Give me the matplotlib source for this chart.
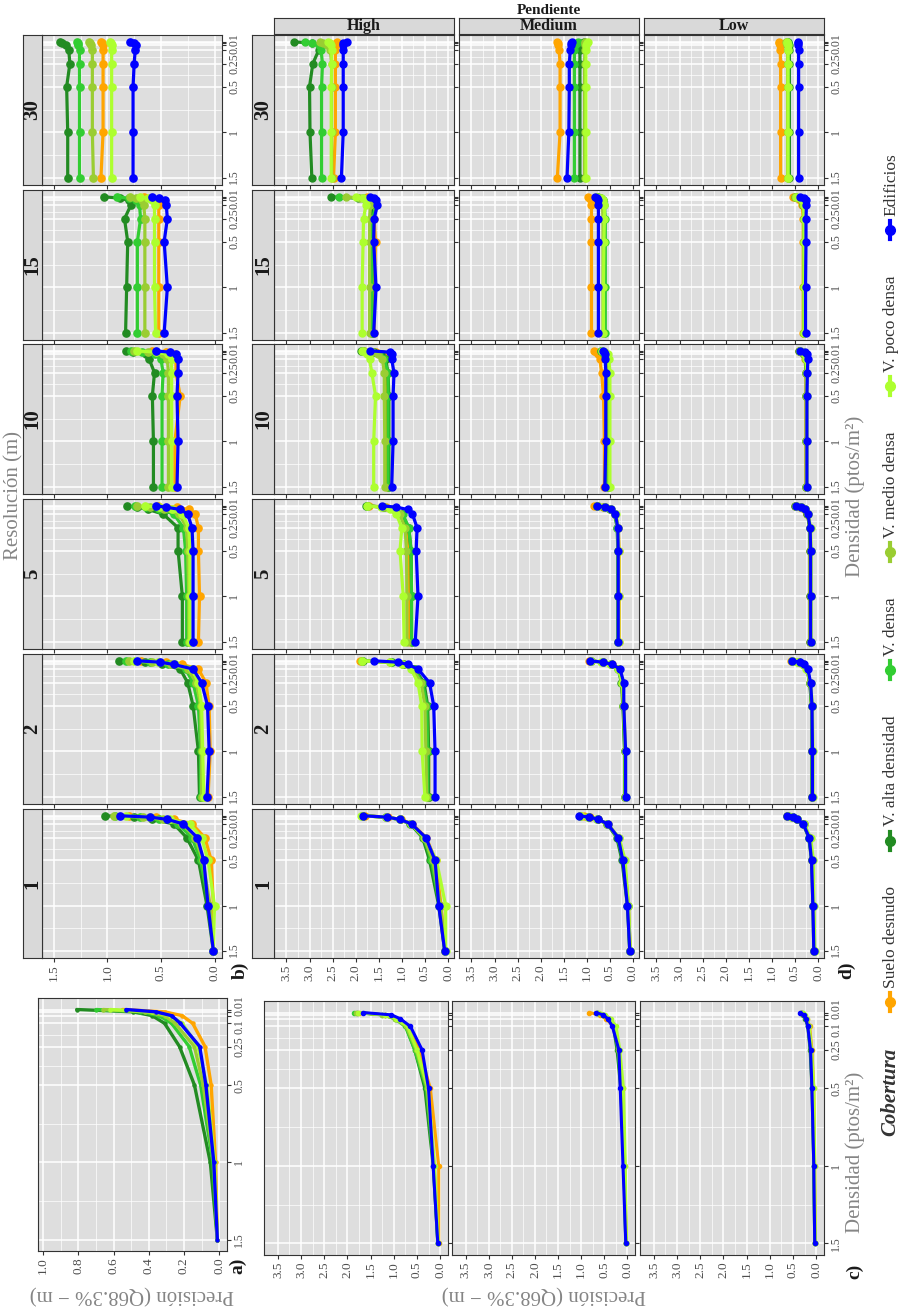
import matplotlib.pyplot as plt
from matplotlib.lines import Line2D
from matplotlib.transforms import ScaledTranslation

plt.rcParams['font.family'] = ['Liberation Serif', 'DejaVu Serif']

W, H = 901, 1308

densidad = [1.5, 1, 0.5, 0.25, 0.1, 0.05, 0.025, 0.01]
coberturas = ['Suelo desnudo', 'V. alta densidad', 'V. densa',
              'V. medio densa', 'V. poco densa', 'Edificios']
colores = ['orange', 'forestgreen', 'limegreen', 'yellowgreen', 'greenyellow', 'blue']
resoluciones = ['30', '15', '10', '5', '2', '1']
pendientes = ['High', 'Medium', 'Low']

# each block: one list per cobertura (same order as above), one value per densidad
a_prec = [
    [0.01, 0.02, 0.045, 0.08, 0.15, 0.21, 0.31, 0.55],
    [0.01, 0.05, 0.14, 0.225, 0.31, 0.38, 0.49, 0.81],
    [0.01, 0.035, 0.105, 0.17, 0.27, 0.34, 0.45, 0.70],
    [0.01, 0.03, 0.09, 0.14, 0.25, 0.31, 0.42, 0.66],
    [0.01, 0.025, 0.07, 0.12, 0.21, 0.28, 0.38, 0.62],
    [0.01, 0.03, 0.075, 0.11, 0.22, 0.27, 0.36, 0.53],
]

b_res30 = [
    [1.06, 1.04, 1.04, 1.04, 1.04, 1.04, 1.05, 1.06],
    [1.37, 1.37, 1.38, 1.35, 1.36, 1.39, 1.42, 1.44],
    [1.26, 1.26, 1.26, 1.26, 1.26, 1.27, 1.27, 1.28],
    [1.13, 1.14, 1.14, 1.14, 1.14, 1.15, 1.16, 1.17],
    [0.96, 0.96, 0.96, 0.96, 0.96, 0.96, 0.97, 0.98],
    [0.76, 0.76, 0.76, 0.75, 0.74, 0.73, 0.75, 0.79],
]
b_res15 = [
    [0.52, 0.52, 0.52, 0.52, 0.52, 0.54, 0.58, 0.66],
    [0.83, 0.82, 0.81, 0.84, 0.78, 0.80, 0.88, 1.03],
    [0.72, 0.72, 0.72, 0.69, 0.70, 0.73, 0.80, 0.91],
    [0.65, 0.65, 0.65, 0.65, 0.66, 0.68, 0.73, 0.79],
    [0.55, 0.56, 0.56, 0.56, 0.56, 0.58, 0.62, 0.70],
    [0.47, 0.44, 0.47, 0.44, 0.45, 0.46, 0.52, 0.58],
]
b_res10 = [
    [0.37, 0.37, 0.32, 0.36, 0.36, 0.38, 0.45, 0.58],
    [0.57, 0.57, 0.58, 0.56, 0.61, 0.64, 0.76, 0.83],
    [0.49, 0.49, 0.49, 0.48, 0.50, 0.56, 0.68, 0.78],
    [0.43, 0.43, 0.43, 0.43, 0.44, 0.48, 0.62, 0.75],
    [0.40, 0.40, 0.40, 0.40, 0.40, 0.43, 0.55, 0.72],
    [0.35, 0.34, 0.35, 0.34, 0.34, 0.36, 0.42, 0.55],
]
b_res5 = [
    [0.15, 0.14, 0.15, 0.15, 0.18, 0.24, 0.35, 0.53],
    [0.30, 0.30, 0.34, 0.34, 0.48, 0.62, 0.72, 0.82],
    [0.26, 0.26, 0.27, 0.29, 0.38, 0.52, 0.64, 0.74],
    [0.24, 0.24, 0.25, 0.26, 0.33, 0.47, 0.60, 0.72],
    [0.23, 0.23, 0.23, 0.24, 0.30, 0.40, 0.52, 0.65],
    [0.20, 0.20, 0.20, 0.21, 0.25, 0.32, 0.45, 0.55],
]
b_res2 = [
    [0.06, 0.04, 0.05, 0.08, 0.15, 0.30, 0.45, 0.69],
    [0.14, 0.15, 0.20, 0.25, 0.32, 0.49, 0.65, 0.89],
    [0.13, 0.13, 0.15, 0.20, 0.27, 0.43, 0.60, 0.83],
    [0.12, 0.12, 0.13, 0.17, 0.25, 0.41, 0.58, 0.80],
    [0.10, 0.11, 0.12, 0.15, 0.21, 0.37, 0.53, 0.75],
    [0.07, 0.05, 0.065, 0.12, 0.20, 0.38, 0.51, 0.72],
]
b_res1 = [
    [0.01, 0.01, 0.03, 0.09, 0.21, 0.38, 0.55, 0.80],
    [0.01, 0.07, 0.15, 0.26, 0.38, 0.58, 0.75, 1.02],
    [0.01, 0.05, 0.13, 0.21, 0.34, 0.52, 0.70, 0.93],
    [0.01, 0.04, 0.11, 0.18, 0.30, 0.48, 0.67, 0.94],
    [0.01, 0.00, 0.06, 0.12, 0.23, 0.42, 0.60, 0.83],
    [0.01, 0.06, 0.10, 0.16, 0.29, 0.44, 0.60, 0.88],
]

c_high = [
    [0.03, 0.03, 0.21, 0.45, 0.72, 0.95, 1.20, 1.75],
    [0.05, 0.15, 0.33, 0.55, 0.74, 0.95, 1.20, 1.80],
    [0.05, 0.14, 0.30, 0.55, 0.75, 0.98, 1.25, 1.85],
    [0.04, 0.13, 0.28, 0.52, 0.73, 0.97, 1.25, 1.82],
    [0.04, 0.12, 0.26, 0.50, 0.70, 0.95, 1.20, 1.78],
    [0.05, 0.15, 0.25, 0.39, 0.64, 0.86, 1.05, 1.66],
]
c_medium = [
    [0.02, 0.05, 0.10, 0.18, 0.30, 0.45, 0.60, 0.82],
    [0.03, 0.07, 0.14, 0.22, 0.30, 0.40, 0.52, 0.65],
    [0.03, 0.07, 0.13, 0.20, 0.29, 0.40, 0.52, 0.65],
    [0.02, 0.06, 0.12, 0.19, 0.28, 0.38, 0.50, 0.63],
    [0.02, 0.04, 0.08, 0.16, 0.24, 0.36, 0.48, 0.62],
    [0.03, 0.09, 0.15, 0.18, 0.32, 0.42, 0.52, 0.68],
]
c_low = [
    [0.02, 0.03, 0.05, 0.09, 0.14, 0.20, 0.26, 0.33],
    [0.03, 0.05, 0.09, 0.13, 0.18, 0.23, 0.28, 0.32],
    [0.03, 0.05, 0.08, 0.12, 0.17, 0.22, 0.27, 0.31],
    [0.02, 0.04, 0.07, 0.11, 0.16, 0.21, 0.26, 0.30],
    [0.02, 0.03, 0.05, 0.10, 0.15, 0.20, 0.25, 0.29],
    [0.03, 0.05, 0.09, 0.12, 0.18, 0.22, 0.27, 0.34],
]

d_30_high = [
    [2.48, 2.44, 2.44, 2.44, 2.44, 2.43, 2.42, 2.40],
    [2.95, 2.99, 3.00, 2.93, 2.80, 2.75, 2.95, 3.34],
    [2.74, 2.74, 2.74, 2.72, 2.75, 2.80, 2.95, 3.09],
    [2.52, 2.52, 2.52, 2.52, 2.55, 2.62, 2.70, 2.78],
    [2.53, 2.53, 2.53, 2.52, 2.52, 2.54, 2.56, 2.60],
    [2.31, 2.27, 2.27, 2.27, 2.27, 2.28, 2.27, 2.19],
]
d_30_medium = [
    [1.64, 1.58, 1.58, 1.58, 1.60, 1.62, 1.63, 1.64],
    [1.15, 1.15, 1.15, 1.15, 1.15, 1.12, 1.10, 1.06],
    [1.27, 1.27, 1.27, 1.27, 1.27, 1.25, 1.22, 1.20],
    [1.05, 1.05, 1.05, 1.05, 1.04, 1.04, 1.03, 1.03],
    [1.02, 1.02, 1.02, 1.02, 1.02, 1.01, 1.00, 0.98],
    [1.43, 1.39, 1.38, 1.38, 1.36, 1.35, 1.34, 1.33],
]
d_30_low = [
    [0.81, 0.81, 0.81, 0.81, 0.82, 0.83, 0.84, 0.85],
    [0.62, 0.62, 0.62, 0.62, 0.62, 0.63, 0.64, 0.64],
    [0.64, 0.64, 0.64, 0.64, 0.64, 0.65, 0.66, 0.67],
    [0.66, 0.66, 0.66, 0.66, 0.66, 0.67, 0.68, 0.70],
    [0.65, 0.65, 0.65, 0.65, 0.65, 0.66, 0.67, 0.68],
    [0.42, 0.42, 0.42, 0.42, 0.42, 0.43, 0.44, 0.44],
]
d_15_high = [
    [1.60, 1.60, 1.57, 1.60, 1.60, 1.62, 1.66, 1.75],
    [1.65, 1.65, 1.65, 1.65, 1.66, 1.72, 1.95, 2.53],
    [1.65, 1.65, 1.65, 1.64, 1.55, 1.60, 1.85, 2.37],
    [1.70, 1.70, 1.70, 1.70, 1.68, 1.72, 1.90, 2.20],
    [1.86, 1.86, 1.84, 1.83, 1.78, 1.78, 1.85, 2.00],
    [1.61, 1.56, 1.61, 1.60, 1.53, 1.55, 1.60, 1.68],
]
d_15_medium = [
    [0.90, 0.90, 0.90, 0.90, 0.90, 0.92, 0.95, 0.98],
    [0.62, 0.62, 0.62, 0.62, 0.64, 0.66, 0.72, 0.78],
    [0.60, 0.60, 0.60, 0.60, 0.62, 0.64, 0.70, 0.76],
    [0.65, 0.65, 0.65, 0.65, 0.66, 0.68, 0.72, 0.78],
    [0.64, 0.64, 0.63, 0.62, 0.62, 0.65, 0.70, 0.80],
    [0.75, 0.75, 0.75, 0.75, 0.75, 0.76, 0.78, 0.82],
]
d_15_low = [
    [0.32, 0.32, 0.32, 0.32, 0.34, 0.38, 0.45, 0.55],
    [0.30, 0.30, 0.30, 0.30, 0.32, 0.35, 0.42, 0.50],
    [0.30, 0.30, 0.30, 0.30, 0.31, 0.34, 0.40, 0.48],
    [0.31, 0.31, 0.31, 0.31, 0.32, 0.35, 0.41, 0.49],
    [0.30, 0.30, 0.30, 0.30, 0.31, 0.34, 0.40, 0.47],
    [0.27, 0.27, 0.26, 0.26, 0.25, 0.26, 0.30, 0.38],
]
d_10_high = [
    [1.33, 1.33, 1.33, 1.33, 1.35, 1.40, 1.55, 1.82],
    [1.28, 1.28, 1.28, 1.30, 1.35, 1.45, 1.60, 1.88],
    [1.30, 1.30, 1.30, 1.30, 1.38, 1.50, 1.65, 1.85],
    [1.37, 1.37, 1.38, 1.38, 1.42, 1.52, 1.65, 1.82],
    [1.61, 1.61, 1.57, 1.65, 1.70, 1.75, 1.80, 1.86],
    [1.22, 1.19, 1.19, 1.17, 1.22, 1.22, 1.25, 1.70],
]
d_10_medium = [
    [0.62, 0.62, 0.64, 0.68, 0.72, 0.75, 0.80, 0.85],
    [0.55, 0.55, 0.55, 0.55, 0.58, 0.62, 0.66, 0.70],
    [0.55, 0.55, 0.55, 0.56, 0.58, 0.62, 0.66, 0.70],
    [0.52, 0.52, 0.52, 0.52, 0.55, 0.58, 0.62, 0.68],
    [0.50, 0.50, 0.50, 0.50, 0.52, 0.55, 0.60, 0.68],
    [0.61, 0.59, 0.59, 0.59, 0.60, 0.60, 0.62, 0.64],
]
d_10_low = [
    [0.26, 0.26, 0.26, 0.26, 0.28, 0.31, 0.36, 0.42],
    [0.25, 0.25, 0.25, 0.25, 0.27, 0.30, 0.35, 0.41],
    [0.25, 0.25, 0.25, 0.25, 0.27, 0.30, 0.34, 0.40],
    [0.25, 0.25, 0.25, 0.25, 0.26, 0.29, 0.34, 0.40],
    [0.24, 0.24, 0.24, 0.24, 0.26, 0.29, 0.33, 0.39],
    [0.24, 0.24, 0.24, 0.23, 0.22, 0.24, 0.29, 0.38],
]
d_5_high = [
    [0.83, 0.83, 0.84, 0.88, 1.00, 1.15, 1.35, 1.72],
    [0.79, 0.79, 0.80, 0.85, 1.00, 1.18, 1.40, 1.78],
    [0.79, 0.79, 0.80, 0.85, 0.98, 1.15, 1.38, 1.75],
    [0.89, 0.89, 0.90, 0.93, 1.05, 1.20, 1.40, 1.74],
    [0.95, 0.97, 1.04, 1.00, 1.12, 1.25, 1.45, 1.76],
    [0.71, 0.65, 0.69, 0.67, 0.77, 0.87, 1.12, 1.43],
]
d_5_medium = [
    [0.30, 0.30, 0.30, 0.32, 0.38, 0.50, 0.64, 0.85],
    [0.33, 0.33, 0.33, 0.34, 0.40, 0.50, 0.62, 0.78],
    [0.33, 0.33, 0.33, 0.34, 0.39, 0.49, 0.61, 0.77],
    [0.32, 0.32, 0.32, 0.33, 0.38, 0.48, 0.60, 0.76],
    [0.31, 0.31, 0.31, 0.32, 0.37, 0.47, 0.60, 0.75],
    [0.32, 0.32, 0.32, 0.33, 0.38, 0.48, 0.60, 0.77],
]
d_5_low = [
    [0.17, 0.17, 0.17, 0.18, 0.23, 0.30, 0.38, 0.50],
    [0.17, 0.17, 0.17, 0.18, 0.23, 0.29, 0.37, 0.49],
    [0.16, 0.16, 0.16, 0.17, 0.22, 0.29, 0.37, 0.48],
    [0.16, 0.16, 0.16, 0.17, 0.22, 0.28, 0.36, 0.48],
    [0.15, 0.15, 0.15, 0.16, 0.21, 0.28, 0.36, 0.47],
    [0.16, 0.16, 0.16, 0.17, 0.22, 0.28, 0.36, 0.48],
]
d_2_high = [
    [0.42, 0.42, 0.45, 0.55, 0.75, 0.98, 1.25, 1.90],
    [0.42, 0.42, 0.44, 0.52, 0.72, 0.95, 1.22, 1.85],
    [0.44, 0.44, 0.46, 0.55, 0.74, 0.97, 1.24, 1.86],
    [0.46, 0.48, 0.50, 0.58, 0.77, 0.99, 1.25, 1.87],
    [0.50, 0.56, 0.57, 0.65, 0.80, 1.00, 1.25, 1.86],
    [0.28, 0.28, 0.31, 0.40, 0.65, 0.87, 1.08, 1.61],
]
d_2_medium = [
    [0.17, 0.17, 0.20, 0.22, 0.30, 0.46, 0.66, 0.95],
    [0.18, 0.18, 0.22, 0.25, 0.32, 0.48, 0.66, 0.92],
    [0.18, 0.18, 0.21, 0.24, 0.31, 0.47, 0.66, 0.92],
    [0.17, 0.17, 0.21, 0.24, 0.31, 0.47, 0.65, 0.91],
    [0.16, 0.16, 0.20, 0.23, 0.32, 0.50, 0.70, 0.90],
    [0.16, 0.16, 0.20, 0.20, 0.28, 0.45, 0.65, 0.94],
]
d_2_low = [
    [0.13, 0.13, 0.14, 0.17, 0.24, 0.33, 0.43, 0.58],
    [0.13, 0.13, 0.14, 0.18, 0.24, 0.32, 0.42, 0.57],
    [0.13, 0.13, 0.14, 0.17, 0.23, 0.32, 0.42, 0.56],
    [0.12, 0.12, 0.13, 0.17, 0.24, 0.33, 0.44, 0.57],
    [0.11, 0.11, 0.12, 0.16, 0.25, 0.35, 0.46, 0.55],
    [0.12, 0.12, 0.13, 0.16, 0.22, 0.30, 0.40, 0.56],
]
d_1_high = [
    [0.06, 0.15, 0.27, 0.47, 0.78, 1.02, 1.30, 1.80],
    [0.07, 0.20, 0.40, 0.55, 0.82, 1.05, 1.35, 1.85],
    [0.07, 0.18, 0.36, 0.53, 0.80, 1.05, 1.34, 1.86],
    [0.06, 0.16, 0.33, 0.52, 0.80, 1.05, 1.35, 1.87],
    [0.05, 0.05, 0.25, 0.50, 0.80, 1.05, 1.35, 1.88],
    [0.07, 0.20, 0.28, 0.48, 0.79, 1.04, 1.33, 1.84],
]
d_1_medium = [
    [0.06, 0.10, 0.19, 0.32, 0.55, 0.76, 0.94, 1.06],
    [0.07, 0.12, 0.24, 0.35, 0.56, 0.76, 0.96, 1.14],
    [0.07, 0.11, 0.22, 0.33, 0.56, 0.77, 0.97, 1.15],
    [0.06, 0.10, 0.19, 0.31, 0.56, 0.78, 0.98, 1.14],
    [0.06, 0.10, 0.17, 0.30, 0.55, 0.78, 0.98, 1.12],
    [0.07, 0.12, 0.22, 0.32, 0.55, 0.75, 0.95, 1.16],
]
d_1_low = [
    [0.08, 0.10, 0.12, 0.18, 0.31, 0.45, 0.56, 0.67],
    [0.09, 0.11, 0.14, 0.20, 0.32, 0.45, 0.55, 0.66],
    [0.08, 0.10, 0.13, 0.19, 0.31, 0.45, 0.56, 0.67],
    [0.08, 0.10, 0.12, 0.18, 0.31, 0.45, 0.56, 0.67],
    [0.07, 0.09, 0.10, 0.16, 0.30, 0.45, 0.56, 0.66],
    [0.09, 0.11, 0.14, 0.19, 0.32, 0.45, 0.55, 0.68],
]

b_prec = [b_res30, b_res15, b_res10, b_res5, b_res2, b_res1]
c_prec = [c_high, c_medium, c_low]
d_prec = [
    [d_30_high, d_30_medium, d_30_low],
    [d_15_high, d_15_medium, d_15_low],
    [d_10_high, d_10_medium, d_10_low],
    [d_5_high, d_5_medium, d_5_low],
    [d_2_high, d_2_medium, d_2_low],
    [d_1_high, d_1_medium, d_1_low],
]

PANEL = '#DEDEDE'
STRIP = '#D9D9D9'
EDGE = '#333333'
TICKC = '#4D4D4D'
TITLEC = '#858585'

fig = plt.figure(figsize=(W / 100, H / 100), dpi=100)


def add_ax(x0, y0, x1, y1):
    # pixel box (top-left origin) -> figure fraction
    return fig.add_axes([x0 / W, 1 - y1 / H, (x1 - x0) / W, (y1 - y0) / H])


def nudge(t, pts):
    t.set_transform(t.get_transform() + ScaledTranslation(0, pts / 72, fig.dpi_scale_trans))


def style(ax, xlim, xmaj, xmin_, fmt, show_x, show_y, lab01=True):
    ax.set_facecolor(PANEL)
    ax.set_xlim(*xlim)
    ax.set_ylim(1.5745, -0.0645)
    ax.set_xticks(xmaj)
    ax.set_xticks(xmin_, minor=True)
    ax.set_yticks(densidad)
    ax.set_yticks([1.25, 0.75, 0.375, 0.175], minor=True)
    ax.grid(which='major', color='white', lw=1.1)
    ax.grid(which='minor', color='white', lw=0.5)
    ax.set_axisbelow(True)
    ax.yaxis.tick_right()
    ax.tick_params(which='minor', length=0)
    ax.tick_params(which='major', length=3, width=0.8, color=EDGE,
                   labelcolor=TICKC, pad=1.5)
    for sp in ax.spines.values():
        sp.set_color(EDGE)
        sp.set_linewidth(0.8)
    if show_x:
        ax.set_xticklabels([fmt % v for v in xmaj], rotation=90, fontsize=9.5)
    else:
        ax.set_xticklabels([])
    if show_y:
        labs = ['1.5', '1', '0.5', '0.25', '0.1' if lab01 else '', '', '', '0.01']
        ax.set_yticklabels(labs, rotation=90, va='center', fontsize=8.5)
        # keep the crowded labels at the ends from touching
        for t in ax.get_yticklabels():
            s = t.get_text()
            if lab01:
                if s == '0.01':
                    nudge(t, 3)
                elif s == '0.1':
                    nudge(t, -2)
            else:
                if s == '0.01':
                    nudge(t, -1.2)
                elif s == '1.5':
                    nudge(t, 1.2)
    else:
        ax.set_yticklabels([])


def strip(x0, y0, x1, y1, txt, rot, size):
    s = add_ax(x0, y0, x1, y1)
    s.set_facecolor(STRIP)
    s.set_xticks([])
    s.set_yticks([])
    for sp in s.spines.values():
        sp.set_color(EDGE)
        sp.set_linewidth(0.8)
    s.text(0.5, 0.5, txt, rotation=rot, ha='center', va='center', fontsize=size,
           fontweight='bold', color='#1A1A1A', transform=s.transAxes)


def draw(ax, series, lw, ms):
    for prec, col in zip(series, colores):
        ax.plot(prec, densidad, color=col, lw=lw, marker='o', ms=ms,
                solid_capstyle='round', solid_joinstyle='round')


cd_maj = [0, 0.5, 1, 1.5, 2, 2.5, 3, 3.5]
cd_min = [0.25, 0.75, 1.25, 1.75, 2.25, 2.75, 3.25]
rows = [(35, 185), (190, 340), (344, 494), (499, 649), (654, 804), (809, 958)]

# a)
ax = add_ax(38, 998, 227, 1251)
style(ax, (1.03, -0.045), [0, 0.2, 0.4, 0.6, 0.8, 1.0],
      [0.1, 0.3, 0.5, 0.7, 0.9], '%.1f', True, True)
draw(ax, a_prec, 2.4, 2.2)

# b)
for i, (y0, y1) in enumerate(rows):
    ax = add_ax(42, y0, 222, y1)
    style(ax, (1.61, -0.07), [0, 0.5, 1, 1.5], [0.25, 0.75, 1.25], '%.1f',
          i == 5, True, lab01=False)
    draw(ax, b_prec[i], 2.3, 5.2)
    strip(23, y0, 42, y1, resoluciones[i], 90, 15)

# c)
for j, (x0, x1) in enumerate([(264, 448), (452, 635), (640, 824)]):
    ax = add_ax(x0, 1001, x1, 1255)
    style(ax, (3.8, -0.17), cd_maj, cd_min, '%.1f', True, j == 2)
    draw(ax, c_prec[j], 2.2, 3.0)

# d)
dcols = [(274, 454), (459, 639), (644, 824)]
for i, (y0, y1) in enumerate(rows):
    for j, (x0, x1) in enumerate(dcols):
        ax = add_ax(x0, y0, x1, y1)
        style(ax, (3.77, -0.13), cd_maj, cd_min, '%.1f', i == 5, j == 2, lab01=False)
        draw(ax, d_prec[i][j], 2.3, 5.0)
    strip(252, y0, 274, y1, resoluciones[i], 90, 15)
for j, (x0, x1) in enumerate(dcols):
    strip(x0, 18, x1, 34, pendientes[j], 0, 11.5)


def ftext(x, y, s, **kw):
    return fig.text(x / W, 1 - y / H, s, **kw)


ftext(549, 10, 'Pendiente', ha='center', va='center', fontsize=11,
      fontweight='bold', color='#1A1A1A')
ftext(14, 496, 'Resolución (m)', rotation=90, ha='center', va='center',
      fontsize=15, color=TITLEC)
ftext(855, 496, 'Densidad (ptos/m²)', rotation=90, ha='center', va='center',
      fontsize=15, color=TITLEC)
ftext(855, 1152, 'Densidad (ptos/m²)', rotation=90, ha='center', va='center',
      fontsize=15, color=TITLEC)
ftext(132, 1294, 'Precisión (Q68.3% − m)', rotation=180, ha='center', va='center',
      fontsize=15, color=TITLEC)
ftext(544, 1294, 'Precisión (Q68.3% − m)', rotation=180, ha='center', va='center',
      fontsize=15, color=TITLEC)
for lab, x, y in [('a)', 238, 1266), ('b)', 240, 970), ('c)', 855, 1271), ('d)', 847, 970)]:
    ftext(x, y, lab, rotation=90, ha='center', va='center', fontsize=14,
          fontweight='bold', color='#1A1A1A')

# legend, laid out along the vertical
LX = 890
title = ftext(LX, 0, 'Cobertura', rotation=90, ha='center', va='bottom',
              fontsize=15, fontweight='bold', fontstyle='italic', color='#333333')
labels = [ftext(LX + 1, 0, c, rotation=90, ha='center', va='bottom',
                fontsize=12.5, color='#333333') for c in coberturas]
renderer = fig.canvas.get_renderer()
lt = title.get_window_extent(renderer).height
ls = [t.get_window_extent(renderer).height for t in labels]
key, small = 18, 5
y_start, y_end = 1136, 153
gap = ((y_start - y_end) - lt - sum(ls) - len(ls) * (key + small)) / len(ls)

cur = y_start
title.set_position((LX / W, 1 - cur / H))
cur -= lt + gap
for t, l, col in zip(labels, ls, colores):
    fig.add_artist(Line2D([LX / W, LX / W], [1 - cur / H, 1 - (cur - key) / H],
                          transform=fig.transFigure, color=col, lw=3))
    fig.add_artist(Line2D([LX / W], [1 - (cur - key / 2) / H], marker='o', ms=7,
                          transform=fig.transFigure, color=col))
    cur -= key + small
    t.set_position(((LX + 1) / W, 1 - cur / H))
    cur -= l + gap

fig.savefig('out.png', dpi=100, facecolor='white')
